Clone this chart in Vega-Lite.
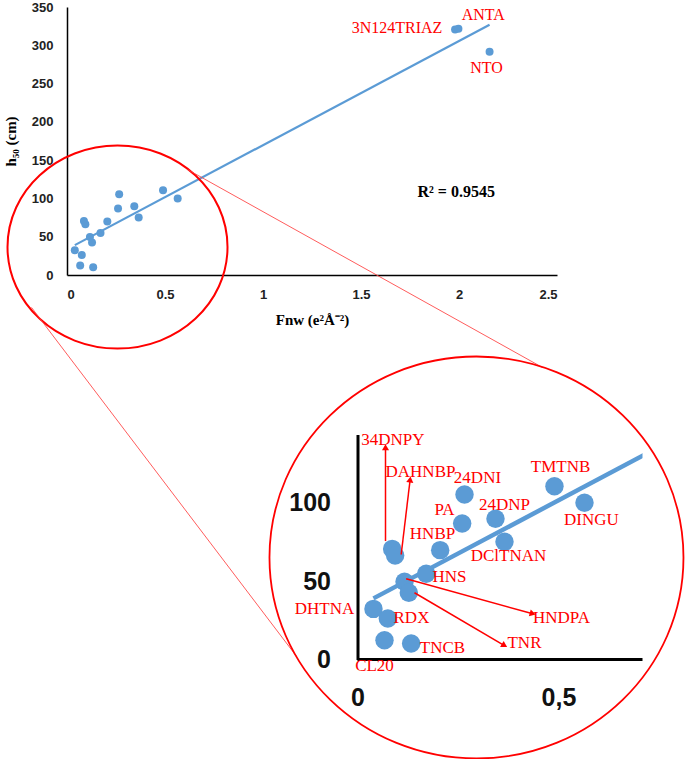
{
  "$schema": "https://vega.github.io/schema/vega-lite/v6.json",
  "background": "white",
  "padding": {"left": 3, "top": 1, "right": 0, "bottom": 0},
  "autosize": {"type": "pad"},
  "config": {"view": {"stroke": null}, "axis": {"grid": false, "ticks": false, "tickSize": 0, "domainColor": "#000", "labelOverlap": false}, "axisY": {"labelOverlap": false}, "axisLeft": {"labelOverlap": false}},
  "datasets": {
    "pts": [
      {"name": "34DNPY", "x": 0.0863, "y": 70.6},
      {"name": "DAHNBP", "x": 0.0937, "y": 66.4},
      {"name": "HNBP", "x": 0.2057, "y": 69.8},
      {"name": "HNS", "x": 0.1709, "y": 54.7},
      {"name": "HNDPA", "x": 0.117, "y": 49.6},
      {"name": "TNR", "x": 0.1277, "y": 42.6},
      {"name": "DHTNA", "x": 0.0398, "y": 32.3},
      {"name": "RDX", "x": 0.0755, "y": 26.2},
      {"name": "CL20", "x": 0.0672, "y": 12.3},
      {"name": "TNCB", "x": 0.1335, "y": 10.2},
      {"name": "PA", "x": 0.2604, "y": 86.8},
      {"name": "24DNI", "x": 0.2662, "y": 105.3},
      {"name": "24DNP", "x": 0.3433, "y": 89.8},
      {"name": "DClTNAN", "x": 0.3657, "y": 75.1},
      {"name": "TMTNB", "x": 0.49, "y": 110.6},
      {"name": "DINGU", "x": 0.5647, "y": 100.0},
      {"name": "3N124TRIAZ", "x": 1.98, "y": 320.5},
      {"name": "ANTA", "x": 1.997, "y": 321.5},
      {"name": "NTO", "x": 2.156, "y": 291.4}
    ],
    "toplabels": [
      {"name": "3N124TRIAZ", "lx": 1.684, "ly": 322.7},
      {"name": "ANTA", "lx": 2.124, "ly": 340.1},
      {"name": "NTO", "lx": 2.14, "ly": 270.5}
    ],
    "rsq": [{"t": "R² = 0.9545", "lx": 1.986, "ly": 108.1}],
    "links": [
      {"x": 0.6148, "y": 137.7, "x2": 2.426, "y2": -120.8},
      {"x": -0.1811, "y": -42.4, "x2": 1.1709, "y2": -498.0}
    ],
    "lensTop": [{"x": 0.2577, "y": 36.55}],
    "lensInset": [{"x": 0.296, "y": 65.1}],
    "ilabels": [
      {"name": "34DNPY", "lx": 0.0878, "ly": 140.4},
      {"name": "DAHNBP", "lx": 0.1567, "ly": 119.8},
      {"name": "24DNI", "lx": 0.2985, "ly": 116.0},
      {"name": "TMTNB", "lx": 0.505, "ly": 122.8},
      {"name": "PA", "lx": 0.2164, "ly": 95.1},
      {"name": "24DNP", "lx": 0.3657, "ly": 98.9},
      {"name": "DINGU", "lx": 0.582, "ly": 89.3},
      {"name": "HNBP", "lx": 0.1866, "ly": 79.8},
      {"name": "DClTNAN", "lx": 0.3756, "ly": 66.2},
      {"name": "HNS", "lx": 0.2289, "ly": 52.8},
      {"name": "DHTNA", "lx": -0.0821, "ly": 32.5},
      {"name": "RDX", "lx": 0.1343, "ly": 26.6},
      {"name": "HNDPA", "lx": 0.5075, "ly": 26.6},
      {"name": "TNR", "lx": 0.4154, "ly": 10.7},
      {"name": "TNCB", "lx": 0.2114, "ly": 7.5},
      {"name": "CL20", "lx": 0.0423, "ly": -4.0}
    ],
    "arrows": [
      {"name": "34DNPY", "x1": 0.0697, "y1": 75.6, "x2": 0.0697, "y2": 135.5},
      {"name": "DAHNBP", "x1": 0.1087, "y1": 67.0, "x2": 0.131, "y2": 114.9},
      {"name": "HNDPA", "x1": 0.1211, "y1": 51.5, "x2": 0.436, "y2": 29.2},
      {"name": "TNR", "x1": 0.1418, "y1": 42.6, "x2": 0.3657, "y2": 8.9}
    ]
  },
  "spacing": 159.5,
  "bounds": "flush",
  "vconcat": [
    {
      "width": 490,
      "height": 268,
      "layer": [
        {
          "data": {"name": "pts"},
          "mark": {"type": "point", "shape": "circle", "filled": true, "size": 64, "color": "#5B9BD5", "opacity": 1},
          "encoding": {
            "x": {"field": "x", "type": "quantitative", "scale": {"domain": [0, 2.5], "nice": false, "zero": false},
              "axis": {"title": "Fnw  (e²Å⁻²)", "values": [0, 0.5, 1, 1.5, 2, 2.5], "format": "~g", "labelOverlap": false, "labelFont": "Liberation Sans", "labelFontWeight": "bold", "labelFontSize": 13, "labelColor": "#222", "labelPadding": 13, "domainWidth": 1.5, "titleFont": "Liberation Serif", "titleFontSize": 15, "titleFontWeight": "bold", "titleColor": "#000", "titlePadding": 11}},
            "y": {"field": "y", "type": "quantitative", "scale": {"domain": [0, 350], "nice": false},
              "axis": {"title": "h₅₀ (cm)", "values": [0, 50, 100, 150, 200, 250, 300, 350], "tickCount": 8, "format": "d", "labelOverlap": false, "labelBound": false, "labelFlush": false, "labelFont": "Liberation Sans", "labelFontWeight": "bold", "labelFontSize": 13, "labelColor": "#222", "labelPadding": 14, "domainWidth": 1.5, "titleFont": "Liberation Serif", "titleFontSize": 15, "titleFontWeight": "bold", "titleColor": "#000", "titlePadding": 13}}
          }
        },
        {
          "data": {"name": "pts"},
          "transform": [{"regression": "y", "on": "x"}],
          "mark": {"type": "line", "color": "#5B9BD5", "strokeWidth": 2.2},
          "encoding": {
            "x": {"field": "x", "type": "quantitative"},
            "y": {"field": "y", "type": "quantitative"}
          }
        },
        {
          "data": {"name": "toplabels"},
          "mark": {"type": "text", "font": "Liberation Serif", "fontSize": 16, "color": "#FF0000"},
          "encoding": {
            "x": {"field": "lx", "type": "quantitative"},
            "y": {"field": "ly", "type": "quantitative"},
            "text": {"field": "name"}
          }
        },
        {
          "data": {"name": "rsq"},
          "mark": {"type": "text", "font": "Liberation Serif", "fontSize": 16, "fontWeight": "bold", "color": "#000"},
          "encoding": {
            "x": {"field": "lx", "type": "quantitative"},
            "y": {"field": "ly", "type": "quantitative"},
            "text": {"field": "t"}
          }
        },
        {
          "data": {"name": "lensTop"},
          "mark": {"type": "point", "shape": "M1,0C1,0.5098 0.5523,0.923 0,0.923C-0.5523,0.923 -1,0.5098 -1,0C-1,-0.5098 -0.5523,-0.923 0,-0.923C0.5523,-0.923 1,-0.5098 1,0Z", "size": 48400, "filled": false, "stroke": "#FF0000", "strokeWidth": 2, "opacity": 1},
          "encoding": {
            "x": {"field": "x", "type": "quantitative"},
            "y": {"field": "y", "type": "quantitative"}
          }
        },
        {
          "data": {"name": "links"},
          "mark": {"type": "rule", "color": "#FF4040", "strokeWidth": 1, "opacity": 0.85},
          "encoding": {
            "x": {"field": "x", "type": "quantitative"},
            "y": {"field": "y", "type": "quantitative"},
            "x2": {"field": "x2"},
            "y2": {"field": "y2"}
          }
        }
      ]
    },
    {
      "width": 575.5,
      "height": 225,
      "layer": [
        {
          "data": {"name": "pts"},
          "transform": [{"regression": "y", "on": "x"}],
          "mark": {"type": "line", "color": "#5B9BD5", "strokeWidth": 4.5, "clip": true},
          "encoding": {
            "x": {"field": "x", "type": "quantitative", "scale": {"domain": [-0.7226, 0.709], "nice": false, "zero": false},
              "axis": {"title": null, "values": [0, 0.5], "labelExpr": "datum.value == 0 ? '0' : '0,5'", "domain": false, "labelOverlap": false, "labelFont": "Liberation Sans", "labelFontWeight": "bold", "labelFontSize": 25, "labelColor": "#111", "labelPadding": 26}},
            "y": {"field": "y", "type": "quantitative", "scale": {"domain": [0, 143.6], "nice": false},
              "axis": {"title": null, "values": [0, 50, 100], "offset": -290.5, "labelOverlap": false, "domainWidth": 3, "labelFont": "Liberation Sans", "labelFontWeight": "bold", "labelFontSize": 25, "labelColor": "#111", "labelPadding": 27}}
          }
        },
        {
          "data": {"name": "pts"},
          "transform": [{"filter": "datum.x < 0.7"}],
          "mark": {"type": "point", "shape": "circle", "filled": true, "size": 340, "color": "#5B9BD5", "opacity": 1},
          "encoding": {
            "x": {"field": "x", "type": "quantitative"},
            "y": {"field": "y", "type": "quantitative"}
          }
        },
        {
          "data": {"values": [{}]},
          "mark": {"type": "rule", "color": "#000", "strokeWidth": 3},
          "encoding": {
            "x": {"datum": 0, "type": "quantitative"},
            "x2": {"datum": 0.709},
            "y": {"datum": 0, "type": "quantitative"}
          }
        },
        {
          "data": {"name": "arrows"},
          "mark": {"type": "rule", "color": "#FF0000", "strokeWidth": 1.5},
          "encoding": {
            "x": {"field": "x1", "type": "quantitative"},
            "y": {"field": "y1", "type": "quantitative"},
            "x2": {"field": "x2"},
            "y2": {"field": "y2"}
          }
        },
        {
          "data": {"name": "arrows"},
          "transform": [{"calculate": "(atan2((datum.x2 - datum.x1) * 402, (datum.y2 - datum.y1) * 1.567) * 180 / PI + 360) % 360", "as": "ang"}],
          "mark": {"type": "point", "shape": "triangle-up", "filled": true, "size": 50, "color": "#FF0000", "opacity": 1},
          "encoding": {
            "x": {"field": "x2", "type": "quantitative"},
            "y": {"field": "y2", "type": "quantitative"},
            "angle": {"field": "ang", "type": "quantitative", "scale": null}
          }
        },
        {
          "data": {"name": "ilabels"},
          "mark": {"type": "text", "font": "Liberation Serif", "fontSize": 17, "color": "#FF0000"},
          "encoding": {
            "x": {"field": "lx", "type": "quantitative"},
            "y": {"field": "ly", "type": "quantitative"},
            "text": {"field": "name"}
          }
        },
        {
          "data": {"name": "lensInset"},
          "mark": {"type": "point", "shape": "M1,0C1,0.5363 0.5523,0.971 0,0.971C-0.5523,0.971 -1,0.5363 -1,0C-1,-0.5363 -0.5523,-0.971 0,-0.971C0.5523,-0.971 1,-0.5363 1,0Z", "size": 171396, "filled": false, "stroke": "#FF0000", "strokeWidth": 1.8, "opacity": 1},
          "encoding": {
            "x": {"field": "x", "type": "quantitative"},
            "y": {"field": "y", "type": "quantitative"}
          }
        }
      ]
    }
  ]
}
